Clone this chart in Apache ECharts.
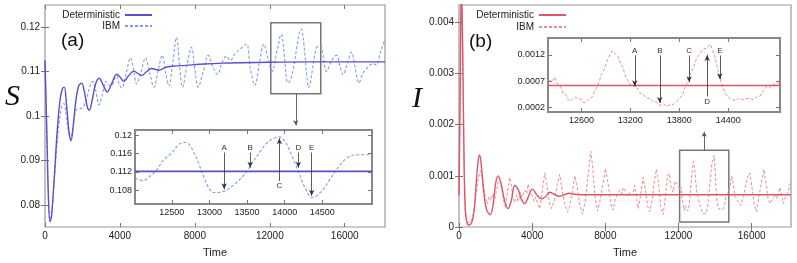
<!DOCTYPE html>
<html><head><meta charset="utf-8">
<script src="https://cdn.jsdelivr.net/npm/echarts@6/dist/echarts.min.js"></script>
<style>html,body{margin:0;padding:0;background:#fff}#c{width:797px;height:263px}</style>
</head><body><div id="c"></div>
<script>
// ---------------- DATA ----------------
// Panel (a): S, deterministic [time, S]
const aDet = [[0,0.1125],[100,0.096],[180,0.082],[267,0.0762],[350,0.0775],[500,0.0865],[650,0.0965],[800,0.1035],[930,0.1062],[1031,0.1065],[1150,0.1025],[1280,0.0965],[1387,0.0944],[1500,0.0975],[1650,0.1035],[1800,0.1068],[1956,0.1074],[2100,0.1055],[2250,0.1022],[2364,0.1013],[2500,0.1032],[2700,0.1072],[2898,0.1085],[3100,0.107],[3324,0.1054],[3550,0.1072],[3822,0.1094],[4000,0.1088],[4213,0.1078],[4450,0.109],[4747,0.1101],[4950,0.1096],[5156,0.1091],[5400,0.1099],[5689,0.1107],[5900,0.1105],[6098,0.1103],[6400,0.1109],[6800,0.1112],[7500,0.1114],[8500,0.1117],[9500,0.1119],[10500,0.112],[12000,0.1121],[14000,0.1122],[18150,0.1122]];
// Panel (a): S, IBM [time, S]
const aIbm = [[0,0.1125],[100,0.096],[180,0.082],[267,0.0762],[350,0.0775],[500,0.0855],[650,0.094],[800,0.1],[920,0.1025],[1013,0.1028],[1120,0.1005],[1250,0.0965],[1369,0.0949],[1480,0.097],[1600,0.1005],[1700,0.1015],[1850,0.1016],[1960,0.1018],[2100,0.1025],[2258,0.1045],[2400,0.1068],[2542,0.1078],[2700,0.106],[2880,0.1025],[3050,0.1045],[3253,0.1078],[3400,0.107],[3550,0.1068],[3700,0.1082],[3822,0.109],[3960,0.1072],[4089,0.1063],[4300,0.109],[4569,0.1131],[4730,0.1105],[4889,0.1072],[5100,0.1095],[5369,0.1131],[5600,0.1095],[5813,0.1065],[6030,0.11],[6258,0.1137],[6450,0.1095],[6620,0.1068],[6820,0.112],[7022,0.1177],[7180,0.1115],[7342,0.1065],[7580,0.1115],[7822,0.1155],[8000,0.1105],[8178,0.1065],[8450,0.11],[8711,0.1137],[8950,0.1112],[9209,0.1094],[9450,0.112],[9689,0.1135],[9900,0.1125],[10100,0.1138],[10400,0.115],[10756,0.1162],[10950,0.111],[11200,0.1069],[11450,0.112],[11680,0.1162],[11900,0.113],
[12050,0.1106],[12145,0.1101],[12221,0.1111],[12297,0.1125],[12373,0.1146],[12468,0.1161],[12544,0.1179],[12608,0.1184],[12658,0.1181],[12715,0.1164],[12772,0.1139],[12829,0.1111],[12886,0.1086],[12943,0.1075],[13000,0.1075],[13075,0.1079],[13151,0.1088],[13246,0.1104],[13322,0.1121],[13398,0.1143],[13474,0.1164],[13550,0.1182],[13626,0.1193],[13694,0.1196],[13759,0.1186],[13816,0.1164],[13873,0.1139],[13911,0.1121],[13968,0.1093],[14013,0.1075],[14063,0.1064],[14120,0.1068],[14196,0.1082],[14272,0.1104],[14348,0.1125],[14424,0.1143],[14500,0.1154],[14595,0.1157],[14720,0.1157],
[14850,0.1135],[15022,0.11],[15300,0.1125],[15556,0.1137],[15750,0.1112],[15911,0.1093],[16150,0.112],[16356,0.1144],[16550,0.111],[16764,0.1074],[16950,0.1095],[17156,0.1106],[17350,0.1115],[17510,0.1118],[17690,0.1115],[17903,0.1144],[18150,0.1172]];
// Inset (a), read on the inset's own axes
const aInsetIbm = [[12010,0.1106],[12124,0.1101],[12212,0.1111],[12301,0.1125],[12389,0.1146],[12500,0.1161],[12588,0.1179],[12664,0.1184],[12721,0.1181],[12788,0.1164],[12854,0.1139],[12920,0.1111],[12987,0.1086],[13053,0.1075],[13119,0.1075],[13208,0.1079],[13296,0.1088],[13407,0.1104],[13496,0.1121],[13584,0.1143],[13673,0.1164],[13761,0.1182],[13850,0.1193],[13929,0.1196],[14004,0.1186],[14071,0.1164],[14137,0.1139],[14181,0.1121],[14248,0.1093],[14301,0.1075],[14358,0.1064],[14425,0.1068],[14513,0.1082],[14602,0.1104],[14690,0.1125],[14779,0.1143],[14867,0.1154],[14978,0.1157],[15160,0.1157]];
const aInsetDet = [[12010,0.1121],[13500,0.1121],[15160,0.1121]];

// Panel (b): I, deterministic [time, I]
const bDet = [[0,0.00062],[60,0.0025],[130,0.0048],[200,0.0035],[280,0.0012],[350,0.0003],[450,0.00006],[550,0.00004],[650,0.00006],[750,0.00015],[850,0.0004],[950,0.0009],[1050,0.0013],[1132,0.00141],[1220,0.0012],[1350,0.0007],[1500,0.00035],[1700,0.00024],[1850,0.0004],[2000,0.00085],[2134,0.001],[2300,0.00085],[2500,0.0005],[2680,0.00036],[2850,0.0005],[3047,0.00081],[3250,0.00072],[3400,0.00055],[3594,0.00046],[3800,0.0006],[4015,0.00074],[4250,0.00063],[4507,0.00055],[4750,0.0006],[4962,0.00068],[5200,0.00064],[5471,0.0006],[5750,0.00063],[6000,0.00066],[6300,0.00064],[7000,0.00063],[8000,0.00063],[10000,0.00063],[12000,0.00063],[18150,0.00063]];
// Panel (b): I, IBM [time, I]
const bIbm = [[0,0.00062],[60,0.0025],[130,0.0048],[200,0.0035],[280,0.0012],[350,0.0003],[450,0.00008],[550,0.00005],[650,0.0001],[750,0.0002],[850,0.0004],[950,0.0007],[1050,0.00095],[1188,0.0011],[1300,0.0009],[1420,0.0006],[1550,0.00045],[1650,0.0006],[1750,0.00052],[1850,0.00065],[1950,0.00055],[2050,0.0007],[2150,0.0009],[2226,0.00097],[2320,0.0008],[2420,0.00055],[2538,0.00038],[2650,0.0007],[2773,0.00097],[2870,0.0008],[2950,0.00055],[3050,0.00048],[3150,0.00062],[3230,0.0005],[3350,0.00068],[3450,0.00058],[3600,0.00072],[3700,0.00065],[3776,0.00084],[3880,0.0007],[3980,0.00062],[4100,0.0005],[4200,0.00058],[4300,0.00045],[4415,0.00036],[4550,0.0007],[4688,0.00106],[4800,0.00085],[4920,0.0005],[5054,0.00036],[5200,0.0005],[5350,0.0008],[5510,0.00103],[5650,0.0007],[5780,0.00045],[5931,0.00029],[6050,0.0004],[6200,0.0007],[6330,0.001],[6450,0.0008],[6600,0.00045],[6750,0.00025],[6900,0.0005],[7050,0.001],[7204,0.00148],[7300,0.0012],[7420,0.00065],[7570,0.00031],[7700,0.0005],[7850,0.0008],[8008,0.00114],[8150,0.00085],[8300,0.00045],[8425,0.00033],[8550,0.00055],[8700,0.00068],[8793,0.00072],[8900,0.00065],[8974,0.00077],[9100,0.0007],[9250,0.0006],[9340,0.00068],[9480,0.00062],[9611,0.00081],[9700,0.0006],[9793,0.00036],[9920,0.0006],[10067,0.00097],[10200,0.0007],[10320,0.0004],[10432,0.0003],[10550,0.0005],[10680,0.0009],[10797,0.00113],[10900,0.0009],[11020,0.0004],[11162,0.00024],[11280,0.0006],[11400,0.001],[11490,0.00105],[11580,0.0008],[11700,0.00068],[11820,0.0009],[11920,0.00092],[12000,0.0008],
[12079,0.00073],[12137,0.00078],[12176,0.00064],[12234,0.00048],[12312,0.00032],[12389,0.00042],[12447,0.00035],[12505,0.00031],[12563,0.00038],[12621,0.00057],[12679,0.00083],[12737,0.00105],[12807,0.00128],[12873,0.00117],[12931,0.00095],[12989,0.0007],[13047,0.0006],[13124,0.00048],[13221,0.00038],[13337,0.00026],[13434,0.00023],[13511,0.00026],[13589,0.00038],[13666,0.00064],[13744,0.00095],[13821,0.00124],[13899,0.00133],[13945,0.0014],[13995,0.00117],[14046,0.00079],[14112,0.00048],[14208,0.00035],[14324,0.00035],[14440,0.00035],[14518,0.00042],[14595,0.0006],[14673,0.00064],[14742,0.0007],
[14820,0.0008],[14905,0.001],[15000,0.00082],[15100,0.0006],[15250,0.0005],[15400,0.00042],[15550,0.0006],[15750,0.00095],[15900,0.00106],[16050,0.0007],[16150,0.00042],[16272,0.0003],[16400,0.0006],[16550,0.0009],[16673,0.00113],[16800,0.0008],[16900,0.00055],[17001,0.00046],[17150,0.00055],[17275,0.00063],[17400,0.00055],[17548,0.00077],[17650,0.0006],[17730,0.00046],[17850,0.00058],[18003,0.0007],[18100,0.00085],[18150,0.0008]];
// Inset (b), read on the inset's own axes
const bInsetIbm = [[12190,0.00072],[12211,0.00073],[12244,0.0007],[12272,0.00078],[12297,0.00068],[12314,0.00064],[12344,0.0006],[12375,0.00048],[12408,0.00045],[12434,0.00036],[12457,0.00032],[12487,0.00036],[12519,0.0004],[12539,0.00042],[12571,0.00037],[12600,0.00035],[12630,0.00029],[12661,0.00031],[12693,0.00036],[12723,0.00038],[12751,0.00048],[12784,0.00057],[12815,0.00068],[12845,0.00083],[12878,0.00092],[12906,0.00105],[12941,0.00118],[12980,0.00128],[13015,0.00122],[13050,0.00117],[13079,0.00104],[13111,0.00095],[13142,0.00078],[13173,0.0007],[13206,0.00062],[13234,0.0006],[13269,0.00061],[13290,0.00055],[13315,0.00048],[13353,0.00046],[13385,0.0004],[13418,0.00038],[13449,0.00037],[13480,0.00031],[13512,0.00032],[13541,0.00026],[13575,0.00024],[13607,0.00027],[13643,0.00023],[13681,0.00025],[13724,0.00026],[13766,0.00032],[13807,0.00038],[13840,0.00045],[13861,0.00055],[13888,0.00064],[13924,0.0008],[13971,0.00095],[14009,0.00112],[14052,0.00124],[14093,0.0013],[14134,0.00133],[14157,0.00131],[14183,0.0014],[14209,0.00128],[14236,0.00117],[14262,0.00098],[14290,0.00079],[14326,0.00062],[14360,0.00048],[14400,0.0004],[14431,0.00036],[14461,0.00035],[14495,0.00033],[14527,0.00038],[14558,0.00036],[14584,0.00035],[14622,0.00037],[14664,0.00038],[14706,0.00035],[14748,0.0004],[14789,0.00042],[14822,0.0005],[14870,0.0006],[14907,0.00058],[14952,0.00064],[14992,0.00062],[15025,0.0007],[15040,0.00072]];
const bInsetDet = [[12190,0.00062],[13600,0.00062],[15040,0.00062]];

// Axis ranges and tick labels
const timeRange = [0, 18150];
const timeTicks = [0, 4000, 8000, 12000, 16000];
const aRange = [0.075, 0.125];
const aTicks = [0.08, 0.09, 0.1, 0.11, 0.12];
const bRange = [0, 0.00434];
const bTicks = [0, 0.001, 0.002, 0.003, 0.004];
const aInsetX = [12010, 15160];
const aInsetXTicks = [12500, 13000, 13500, 14000, 14500];
const aInsetY = [0.105, 0.1211];
const aInsetYTicks = [0.108, 0.112, 0.116, 0.12];
const bInsetX = [12190, 15035];
const bInsetXTicks = [12600, 13200, 13800, 14400];
const bInsetY = [0.000118, 0.00152];
const bInsetYTicks = [0.0002, 0.0007, 0.0012];

// Annotations (data space)
const arrowLetters = ['A', 'B', 'C', 'D', 'E'];
const aArrowT = [13195, 13540, 13929, 14181, 14358];
const aArrowFrom = [0.1162, 0.1162, 0.1100, 0.1162, 0.1162];
const aArrowTo = [0.1082, 0.1129, 0.1193, 0.1129, 0.1068];
const bArrowT = [13254, 13561, 13921, 14142, 14297];
const bArrowFrom = [0.00119, 0.00119, 0.00119, 0.000415, 0.00119];
const bArrowTo = [0.000605, 0.00029, 0.00068, 0.0012, 0.00074];
const aBox = [12053, 14720, 0.105, 0.121];
const aLink = [13387, 0.105, 0.0979];
const bBox = [12060, 14750, 0.0001, 0.0015];
const bLink = [13405, 0.0015, 0.00186];

// ---------------- CHART ----------------
const FONT = 'Liberation Sans, Arial, sans-serif';
const C = { aDet: '#5b4fce', aIbm: '#7c9ef2', bDet: '#de5569', bIbm: '#ee8c8f' };
const fmt = v => String(v);

function xAx(grid, range, ticks, top, fs, name) {
  return {
    type: 'value', gridIndex: grid, min: range[0], max: range[1], position: top ? 'top' : 'bottom',
    axisLine: { show: false }, splitLine: { show: false },
    axisTick: { inside: true, length: 4, customValues: ticks, lineStyle: { color: '#777', width: 1 } },
    axisLabel: { show: !top, customValues: ticks, fontSize: fs, color: '#222', fontFamily: FONT, margin: 4, formatter: fmt },
    name: name || '', nameLocation: 'middle', nameGap: 20,
    nameTextStyle: { fontSize: 11, color: '#222', fontFamily: FONT }
  };
}
function yAx(grid, range, ticks, right, fs, margin) {
  return {
    type: 'value', gridIndex: grid, min: range[0], max: range[1], position: right ? 'right' : 'left',
    axisLine: { show: false }, splitLine: { show: false },
    axisTick: { inside: true, length: 4, customValues: ticks, lineStyle: { color: '#777', width: 1 } },
    axisLabel: { show: !right, customValues: ticks, fontSize: fs, color: '#222', fontFamily: FONT, margin: margin, formatter: fmt }
  };
}
function arrows(letters, ts, from, to) {
  return letters.map((L, i) => [{ name: L, coord: [ts[i], from[i]] }, { coord: [ts[i], to[i]] }]);
}
const arrowLine = (data) => ({
  silent: true, symbol: ['none', 'arrow'], symbolSize: [4, 6], animation: false,
  lineStyle: { color: '#333', width: 0.8, type: 'solid' },
  label: { show: true, position: 'start', distance: 1, formatter: p => p.name, fontSize: 8, color: '#333', fontFamily: FONT },
  emphasis: { disabled: true }, data: data
});
const linkLine = (l) => ({
  silent: true, symbol: ['none', 'arrow'], symbolSize: [4, 5], animation: false,
  lineStyle: { color: '#555', width: 0.9, type: 'solid' }, label: { show: false },
  emphasis: { disabled: true },
  data: [[{ coord: [l[0], l[1]] }, { coord: [l[0], l[2]] }]]
});
const boxArea = (b) => ({
  silent: true, itemStyle: { color: 'rgba(0,0,0,0)', borderColor: '#777', borderWidth: 1.5 },
  emphasis: { disabled: true },
  data: [[{ xAxis: b[0], yAxis: b[2] }, { xAxis: b[1], yAxis: b[3] }]]
});
function line(name, data, xi, yi, color, dashed, width, extra) {
  return Object.assign({
    name: name, type: 'line', xAxisIndex: xi, yAxisIndex: yi, data: data, symbol: 'none',
    smooth: dashed === 'jag' ? false : 0.35, clip: true, animation: false,
    lineStyle: { color: color, width: width, type: dashed ? [3, 2] : 'solid' },
    itemStyle: { color: color }, emphasis: { disabled: true }
  }, extra || {});
}
function legendItem(name, label, right, top) {
  return {
    data: [name], right: right, top: top, align: 'right', orient: 'vertical', padding: 0,
    itemWidth: 27, itemHeight: 10, selectedMode: false, formatter: () => label,
    itemStyle: { opacity: 0 },
    textStyle: { fontSize: 10, color: '#222', fontFamily: FONT }
  };
}
const titleText = (text, left, top, size, serif) => ({
  text: text, left: left, top: top, padding: 0,
  textStyle: { fontSize: size, fontWeight: 'normal', fontStyle: serif ? 'italic' : 'normal', color: '#111',
    fontFamily: serif ? 'Liberation Serif, serif' : FONT }
});

const option = {
  animation: false,
  backgroundColor: '#fff',
  grid: [
    { left: 45, top: 5, width: 340, height: 226, show: true, borderColor: '#999', borderWidth: 1.2 },
    { left: 135, top: 130, width: 237, height: 74, show: true, borderColor: '#888', borderWidth: 2, backgroundColor: '#fff' },
    { left: 459, top: 5, width: 332, height: 227, show: true, borderColor: '#999', borderWidth: 1.2 },
    { left: 548, top: 38, width: 232, height: 74, show: true, borderColor: '#888', borderWidth: 2, backgroundColor: '#fff' }
  ],
  xAxis: [
    xAx(0, timeRange, timeTicks, false, 10, 'Time'), xAx(0, timeRange, timeTicks, true, 10),
    xAx(1, aInsetX, aInsetXTicks, false, 9), xAx(1, aInsetX, aInsetXTicks, true, 9),
    xAx(2, timeRange, timeTicks, false, 10, 'Time'), xAx(2, timeRange, timeTicks, true, 10),
    xAx(3, bInsetX, bInsetXTicks, false, 9), xAx(3, bInsetX, bInsetXTicks, true, 9)
  ],
  yAxis: [
    yAx(0, aRange, aTicks, false, 10, 5), yAx(0, aRange, aTicks, true, 10, 5),
    yAx(1, aInsetY, aInsetYTicks, false, 9, 3), yAx(1, aInsetY, aInsetYTicks, true, 9, 3),
    yAx(2, bRange, bTicks, false, 10, 5), yAx(2, bRange, bTicks, true, 10, 5),
    yAx(3, bInsetY, bInsetYTicks, false, 9, 3), yAx(3, bInsetY, bInsetYTicks, true, 9, 3)
  ],
  legend: [
    legendItem('Deterministic', 'Deterministic', 797 - 153, 10),
    legendItem('IBM', 'IBM', 797 - 153, 21),
    legendItem('Deterministic (b)', 'Deterministic', 797 - 567, 10),
    legendItem('IBM (b)', 'IBM', 797 - 567, 22)
  ],
  title: [
    titleText('(a)', 61, 31, 19, false),
    titleText('S', 5, 82, 30, true),
    titleText('(b)', 469, 32, 19, false),
    titleText('I', 412, 84, 30, true)
  ],
  series: [
    line('IBM', aIbm, 0, 0, C.aIbm, true, 1.1, { markArea: boxArea(aBox) }),
    line('Deterministic', aDet, 0, 0, C.aDet, false, 1.4, { markLine: linkLine(aLink) }),
    line('IBM inset a', aInsetIbm, 2, 2, C.aIbm, true, 1.1, { markLine: arrowLine(arrows(arrowLetters, aArrowT, aArrowFrom, aArrowTo)) }),
    line('Det inset a', aInsetDet, 2, 2, C.aDet, false, 1.8),
    line('IBM (b)', bIbm, 4, 4, C.bIbm, 'jag', 1.0, { markArea: boxArea(bBox) }),
    line('Deterministic (b)', bDet, 4, 4, C.bDet, false, 1.4, { markLine: linkLine(bLink) }),
    line('IBM inset b', bInsetIbm, 6, 6, C.bIbm, 'jag', 1.0, { markLine: arrowLine(arrows(arrowLetters, bArrowT, bArrowFrom, bArrowTo)) }),
    line('Det inset b', bInsetDet, 6, 6, C.bDet, false, 1.6)
  ]
};
const chart = echarts.init(document.getElementById('c'), null, { renderer: 'canvas' });
chart.setOption(option);
</script></body></html>
